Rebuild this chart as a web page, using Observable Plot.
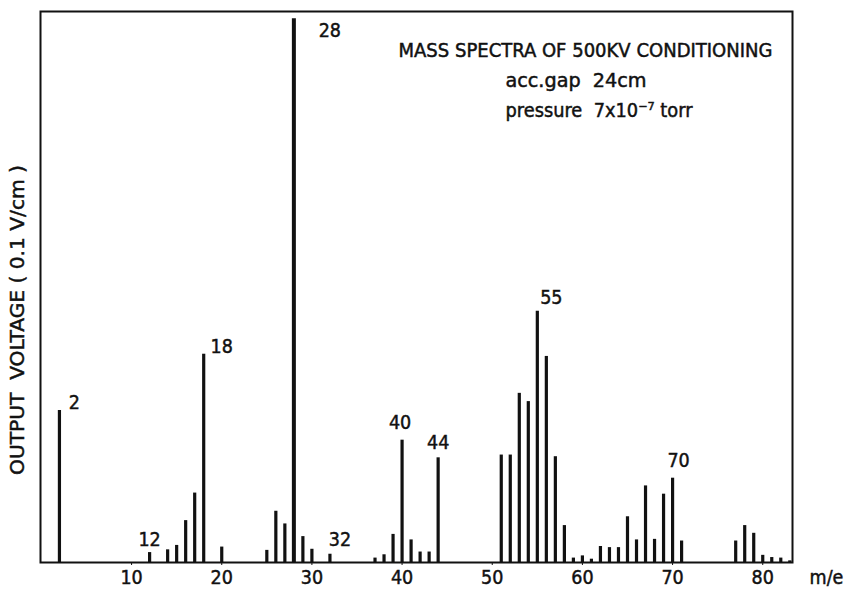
<!DOCTYPE html>
<html>
<head>
<meta charset="utf-8">
<script src="https://cdn.jsdelivr.net/npm/d3@7"></script>
<script src="https://cdn.jsdelivr.net/npm/@observablehq/plot@0.6"></script>
<style>
  html, body { margin: 0; padding: 0; background: #fff; }
  svg { display: block; }
  svg text { stroke: #111; stroke-width: 0.45px; }
</style>
</head>
<body>
<div id="chart"></div>
<script>
// m/e values of each peak
const massToCharge = [2, 12, 14, 15, 16, 17, 18, 20, 25, 26, 27, 28, 29, 30, 32,
  37, 38, 39, 40, 41, 42, 43, 44, 51, 52, 53, 54, 55, 56, 57, 58, 59, 60, 61,
  62, 63, 64, 65, 66, 67, 68, 69, 70, 71, 77, 78, 79, 80, 81, 82, 83];
// output voltage (relative units, full scale = 100)
const outputVoltage = [27.6, 1.8, 2.3, 3.1, 7.6, 12.6, 37.8, 2.8, 2.2, 9.3, 7.0, 98.7, 4.7, 2.4, 1.5,
  0.8, 1.4, 5.1, 22.2, 4.1, 1.9, 1.9, 19.0, 19.5, 19.5, 30.7, 29.2, 45.6, 37.4, 19.2, 6.7, 0.8, 1.2, 0.6,
  2.9, 2.7, 2.7, 8.3, 4.1, 13.9, 4.2, 12.4, 15.3, 3.9, 3.9, 6.7, 5.3, 1.3, 0.9, 0.8, 0.3];

const labelledPeaks = [2, 12, 18, 28, 32, 40, 44, 55, 70];
const xTicks = [10, 20, 30, 40, 50, 60, 70, 80];
const titleLines = ["MASS SPECTRA OF 500KV CONDITIONING", "acc.gap  24cm", "pressure  7x10\u207B\u2077 torr"];
const yLabel = "OUTPUT  VOLTAGE ( 0.1 V/cm )";
const xLabel = "m/e";

const peaks = massToCharge.map((m, i) => ({m, v: outputVoltage[i]}));
const labels = labelledPeaks.map(m => ({m, v: outputVoltage[massToCharge.indexOf(m)], text: String(m)}));

// label placement offsets (styling)
const off = {2: [15, -8], 12: [0, -13], 18: [18, -7], 28: [36, 12], 32: [10, -14],
  40: [-2, -17], 44: [0, -15], 55: [14, -13], 70: [6, -17]};
// rendered widths of the text lines (styling)
const textWidths = {[titleLines[0]]: 374, [titleLines[1]]: 141, [titleLines[2]]: 187, [yLabel]: 310};

const font = "'DejaVu Sans Condensed', 'DejaVu Sans', sans-serif";

const chart = Plot.plot({
  width: 846,
  height: 590,
  marginLeft: 40,
  marginRight: 54,
  marginTop: 11,
  marginBottom: 28,
  style: {fontFamily: font, background: "#fff", color: "#111"},
  x: {domain: [-0.1, 83.3], ticks: xTicks, tickSize: 3, tickPadding: 5, tickFormat: d => String(d), label: null},
  y: {domain: [0, 100], axis: null},
  marks: [
    Plot.ruleX(peaks, {x: "m", y1: 0, y2: "v", stroke: "#111", strokeWidth: d => d.m === 28 ? 4 : 3.2}),
    ...labels.map(d => Plot.text([d], {x: "m", y: "v", text: "text", dx: off[d.m][0], dy: off[d.m][1],
      fontSize: 19.5, fill: "#111", textAnchor: "middle", lineAnchor: "middle"})),
    Plot.text([titleLines[0]], {frameAnchor: "top-left", dx: 358, dy: 39, text: d => d, fontSize: 19, fill: "#111", textAnchor: "start", lineAnchor: "middle"}),
    Plot.text([titleLines[1]], {frameAnchor: "top-left", dx: 465, dy: 69, text: d => d, fontSize: 19.5, fill: "#111", textAnchor: "start", lineAnchor: "middle"}),
    Plot.text([titleLines[2]], {frameAnchor: "top-left", dx: 465, dy: 99, text: d => d, fontSize: 19.5, fill: "#111", textAnchor: "start", lineAnchor: "middle"}),
    Plot.text([yLabel], {frameAnchor: "left", dx: -23, dy: 33, rotate: -90, text: d => d, fontSize: 19.5, fill: "#111", textAnchor: "middle", lineAnchor: "middle"}),
    Plot.text([xLabel], {frameAnchor: "bottom-right", dx: 34, dy: 15, text: d => d, fontSize: 19.5, fill: "#111", textAnchor: "middle", lineAnchor: "middle"}),
    Plot.frame({stroke: "#111", strokeWidth: 2})
  ]
});
chart.querySelectorAll("g[aria-label='x-axis tick label']").forEach(g => g.setAttribute("font-size", 19.5));
chart.querySelectorAll("text").forEach(t => {
  const w = textWidths[t.textContent];
  if (w) { t.setAttribute("textLength", w); t.setAttribute("lengthAdjust", "spacingAndGlyphs"); }
});
document.getElementById("chart").appendChild(chart);
</script>
</body>
</html>
